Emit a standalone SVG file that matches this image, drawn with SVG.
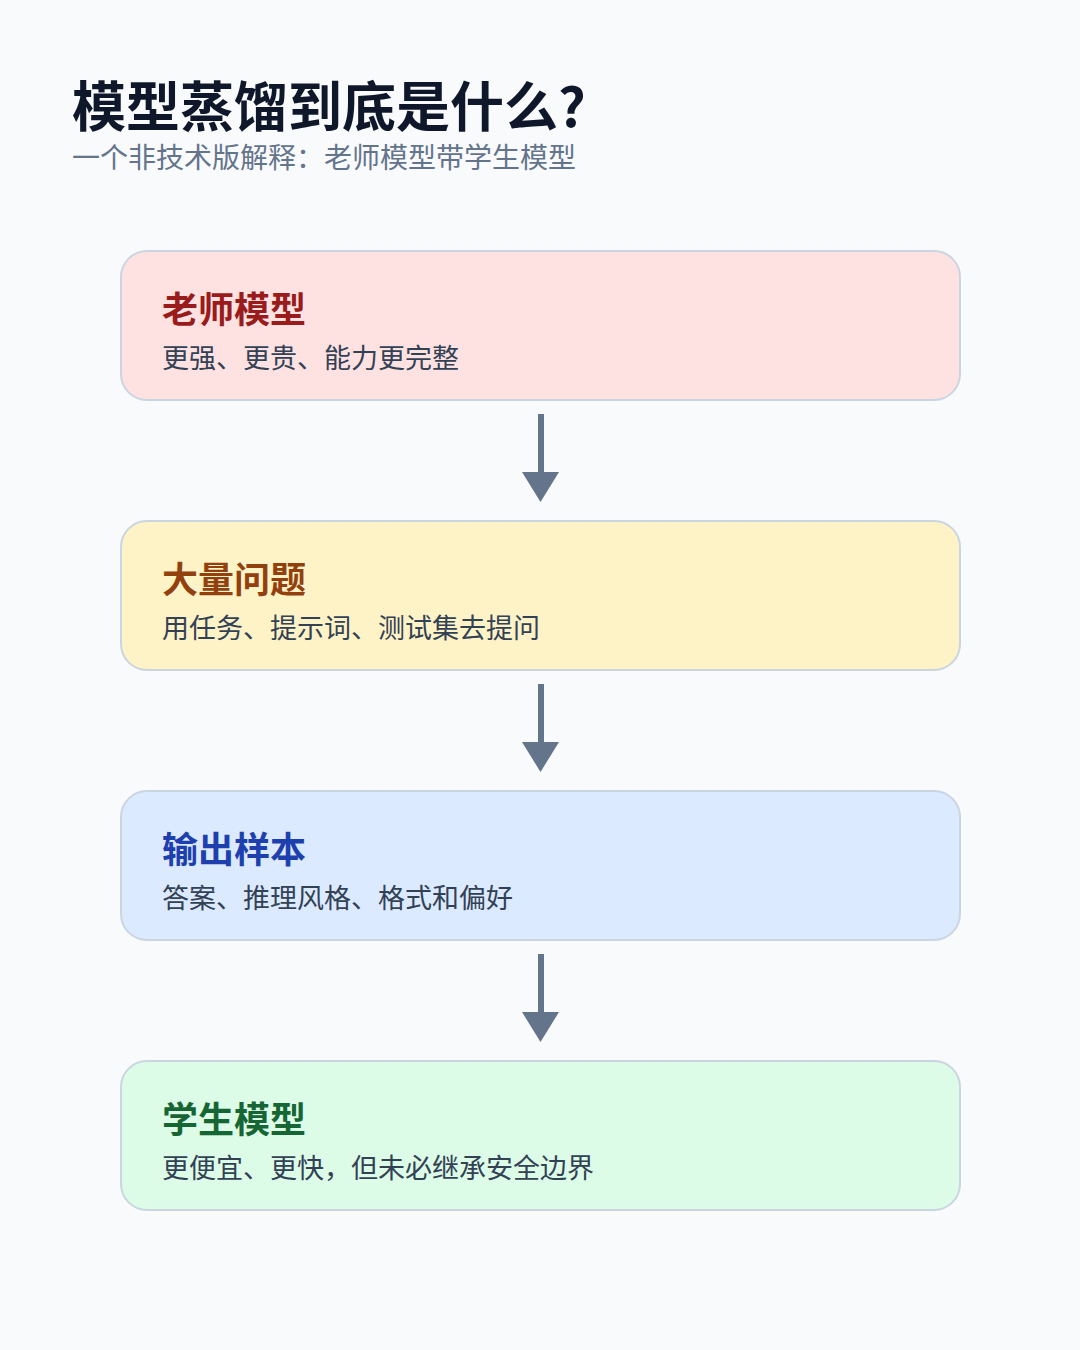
<svg xmlns="http://www.w3.org/2000/svg" width="1080" height="1350" viewBox="0 0 1080 1350">
<style>
.t{font-family:"Noto Sans CJK SC","Noto Sans",sans-serif;}
.title{font-size:54px;font-weight:700;fill:#0f172a;}
.sub{font-size:28px;fill:#64748b;}
.box{stroke:#cbd5e1;stroke-width:2;}
.h{font-size:36px;font-weight:700;}
.d{font-size:27px;fill:#334155;}
.conn line{stroke:#64748b;stroke-width:6;}
.conn polygon{fill:#64748b;}
</style>
<rect width="1080" height="1350" fill="#f8fafc"/>
<text class="t title" x="72" y="127">模型蒸馏到底是什么?</text>
<text class="t sub" x="72" y="168">一个非技术版解释：老师模型带学生模型</text>
<g id="connectors" class="conn">
<line x1="541" y1="414" x2="541" y2="474"/><polygon points="522,472 559,472 540.5,502"/>
<line x1="541" y1="684" x2="541" y2="744"/><polygon points="522,742 559,742 540.5,772"/>
<line x1="541" y1="954" x2="541" y2="1014"/><polygon points="522,1012 559,1012 540.5,1042"/>
</g>
<g id="teacher">
<rect class="box" x="121" y="251" width="839" height="149" rx="26" fill="#fee2e2"/>
<text class="t h" x="162" y="323" fill="#991b1b">老师模型</text>
<text class="t d" x="162" y="368">更强、更贵、能力更完整</text>
</g>
<g id="questions">
<rect class="box" x="121" y="521" width="839" height="149" rx="26" fill="#fef3c7"/>
<text class="t h" x="162" y="593" fill="#92400e">大量问题</text>
<text class="t d" x="162" y="638">用任务、提示词、测试集去提问</text>
</g>
<g id="samples">
<rect class="box" x="121" y="791" width="839" height="149" rx="26" fill="#dbeafe"/>
<text class="t h" x="162" y="863" fill="#1e40af">输出样本</text>
<text class="t d" x="162" y="908">答案、推理风格、格式和偏好</text>
</g>
<g id="student">
<rect class="box" x="121" y="1061" width="839" height="149" rx="26" fill="#dcfce7"/>
<text class="t h" x="162" y="1133" fill="#166534">学生模型</text>
<text class="t d" x="162" y="1178">更便宜、更快，但未必继承安全边界</text>
</g>
</svg>
